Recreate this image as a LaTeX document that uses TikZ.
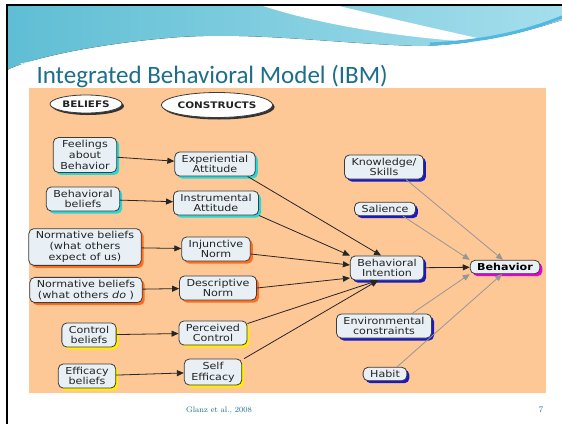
\documentclass[tikz,border=0pt]{standalone}
\usepackage{fontspec}
\newfontfamily\boxfont[FakeStretch=1.16]{DejaVu Sans}
\newfontfamily\titlefont{Carlito}
\usetikzlibrary{shapes.geometric,shadows,arrows.meta}
\pgfdeclarelayer{bg}
\pgfsetlayers{bg,main}

\definecolor{panel}{RGB}{253,200,150}
\definecolor{boxfill}{RGB}{232,240,245}
\definecolor{boxline}{RGB}{60,60,60}
\definecolor{boxtext}{RGB}{35,35,35}
\definecolor{tealsh}{RGB}{40,215,215}
\definecolor{orangesh}{RGB}{255,110,30}
\definecolor{yellowsh}{RGB}{255,238,0}
\definecolor{bluesh}{RGB}{25,25,200}
\definecolor{magsh}{RGB}{230,0,220}
\definecolor{titlecol}{RGB}{28,110,140}
\definecolor{waveA}{RGB}{95,190,212}
\definecolor{waveB}{RGB}{165,222,236}
\definecolor{waveC}{RGB}{80,185,225}
\definecolor{faintcol}{RGB}{150,150,150}

\tikzset{
    box/.style={draw=boxline, fill=boxfill, rounded corners=5pt, line width=0.8pt,
        align=center, inner xsep=7pt, inner ysep=3pt, text=boxtext,
        font=\boxfont\fontsize{9.6}{10.7}\selectfont,
        drop shadow={shadow xshift=2.5pt, shadow yshift=-2.5pt, fill=#1, opacity=1}},
    tag/.style={ellipse, draw=boxline, fill=white, line width=0.8pt, inner sep=0pt,
        font=\boxfont\bfseries\fontsize{9}{11}\selectfont, text=boxtext,
        drop shadow={shadow xshift=2pt, shadow yshift=-2pt, fill=black!80, opacity=1}},
    tie/.style={draw=black!85, line width=0.8pt, -{Triangle[length=7pt,width=6pt]}},
    cue/.style={draw=faintcol, line width=0.8pt, -{Triangle[length=7pt,width=6pt]}}
}

\begin{document}
\begin{tikzpicture}[x=1pt,y=-1pt]
                        \useasboundingbox (0,0) rectangle (562,424);
                        \begin{pgfonlayer}{bg}
                            \fill[white] (0,0) rectangle (562,424);
                            \fill[panel] (29,88) rectangle (546,393);
                        \end{pgfonlayer}

                        \fill[left color=waveA, right color=waveB]
                            (7,5) -- (562,5) -- (562,20)
                            .. controls (520,34) and (470,45) .. (420,46)
                            .. controls (340,44) and (260,32) .. (180,37)
                            .. controls (100,43) and (30,58) .. (7,70) -- cycle;
                        \fill[white]
                            (260,5) .. controls (330,28) and (420,40) .. (505,44)
                            .. controls (440,30) and (380,16) .. (335,5) -- cycle;
                        \draw[waveC, line width=3pt]
                            (430,44) .. controls (490,41) and (530,30) .. (562,17);
                        \draw[white, line width=0.6pt]
                            (20,64) .. controls (100,46) and (200,36) .. (300,40);
                        \draw[black, line width=2.2pt] (7,424) -- (7,5) -- (562,5);

                        \node[anchor=base west, text=titlecol, font=\titlefont\fontsize{25}{28}\selectfont]
                            (title) at (33,83) {Integrated Behavioral Model (IBM)};

                        \node[tag, minimum width=72pt, minimum height=18pt] (beliefs) at (86,104) {BELIEFS};
                        \node[tag, minimum width=104pt, minimum height=25pt] (constructs) at (217,105) {CONSTRUCTS};

                        \node[box=tealsh] (feel) at (85,155) {Feelings\\about\\Behavior};
                        \node[box=tealsh] (behbel) at (83,199) {Behavioral\\beliefs};
                        \node[box=orangesh] (normexp) at (85,247) {Normative beliefs\\(what others\\expect of us)};
                        \node[box=orangesh] (normdo) at (86,290) {Normative beliefs\\(what others \textit{do} )};
                        \node[box=yellowsh] (ctrlbel) at (89,335) {Control\\beliefs};
                        \node[box=yellowsh] (effbel) at (87,376) {Efficacy\\beliefs};

                        \node[box=tealsh] (expatt) at (215,164) {Experiential\\Attitude};
                        \node[box=tealsh] (insatt) at (216,203) {Instrumental\\Attitude};
                        \node[box=orangesh] (injnorm) at (216,249) {Injunctive\\Norm};
                        \node[box=orangesh] (descnorm) at (218,288) {Descriptive\\Norm};
                        \node[box=yellowsh] (percctrl) at (213,333) {Perceived\\Control};
                        \node[box=yellowsh] (selfeff) at (213,372) {Self\\Efficacy};

                        \node[box=bluesh] (know) at (384,167) {Knowledge/\\Skills};
                        \node[box=bluesh] (sal) at (385,209) {Salience};
                        \node[box=bluesh] (bi) at (387,268) {Behavioral\\Intention};
                        \node[box=bluesh] (env) at (384,326) {Environmental\\constraints};
                        \node[box=bluesh] (habit) at (385,374) {Habit};
                        \node[box=magsh, font=\boxfont\bfseries\fontsize{9.6}{10.7}\selectfont, text=black]
                            (beh) at (505,267) {Behavior};

                        \draw[tie] (feel) -- (expatt);
                        \draw[tie] (behbel) -- (insatt);
                        \draw[tie] (normexp) -- (injnorm);
                        \draw[tie] (normdo) -- (descnorm);
                        \draw[tie] (ctrlbel) -- (percctrl);
                        \draw[tie] (effbel) -- (selfeff);

                        \draw[tie] ([xshift=-8pt]expatt.south east) -- ([xshift=-6pt]bi.north);
                        \draw[tie] (insatt.south east) -- (bi.north west);
                        \draw[tie] ([yshift=-5pt]injnorm.east) -- ([yshift=3pt]bi.west);
                        \draw[tie] (descnorm.east) -- ([yshift=-10pt]bi.west);
                        \draw[tie] ([yshift=-3pt]percctrl.north east) -- ([xshift=-9pt]bi.south);
                        \draw[tie] ([xshift=2pt]selfeff.north east) -- ([xshift=-9pt]bi.south);
                        \draw[tie] (bi) -- (beh);

                        \draw[cue] ([xshift=22pt]know.south) -- ([xshift=-2pt]beh.north);
                        \draw[cue] ([xshift=18pt]sal.south) -- (beh.north west);
                        \draw[cue] ([xshift=28pt]env.north) -- (beh.south west);
                        \draw[cue] ([xshift=12pt]habit.north) -- ([xshift=-3pt]beh.south);

                        \node[text=titlecol, font=\fontsize{8}{9}\selectfont] (cite) at (219,410) {Glanz et al., \oldstylenums{2008}};
                        \node[text=titlecol, font=\fontsize{8.5}{9}\selectfont] (page) at (541,410) {7};
                    \end{tikzpicture}
\end{document}
